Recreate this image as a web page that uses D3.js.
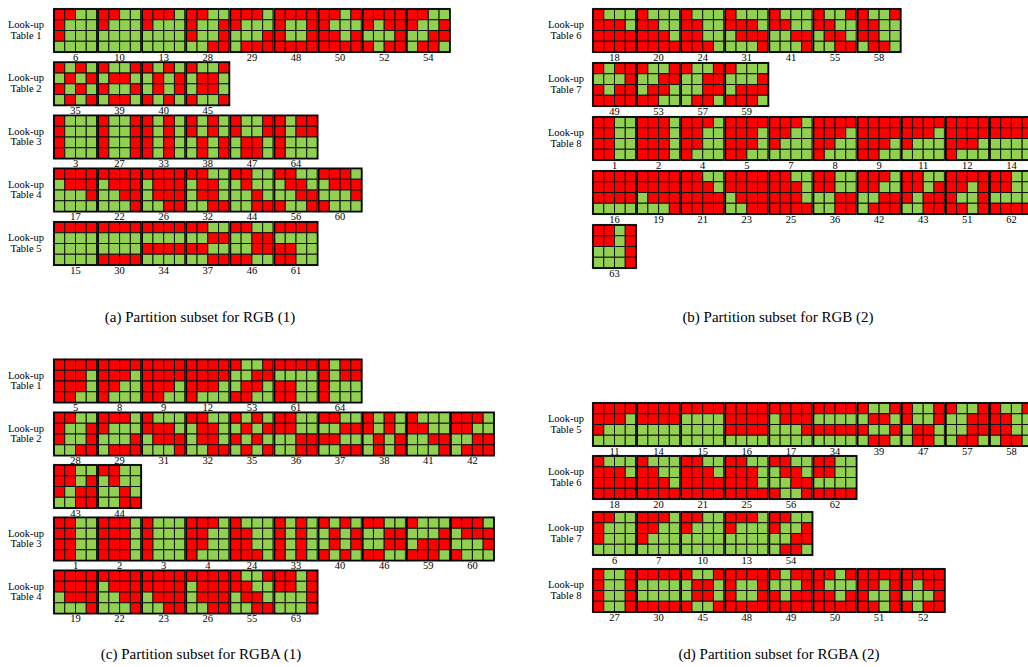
<!DOCTYPE html>
<html>
<head>
<meta charset="utf-8">
<script src="https://cdn.jsdelivr.net/npm/d3@7"></script>
<style>
  body { margin: 0; background: #fff; }
  text { font-family: "Liberation Serif", "Times New Roman", serif; fill: #000; }
</style>
</head>
<body>
<svg id="chart" width="1028" height="667"></svg>
<script>
// partition shapes, 4x4 read row by row, 1 = red (subset 0), 0 = green (subset 1)
const partitionShapes = {
  1: "1100110011001100", 2: "1110111011101110", 3: "1000100010001000", 4: "1110110011001000",
  5: "1111111011101100", 6: "1100100010000000", 7: "1110110010000000", 8: "1111111011001000",
  9: "1111111111101100", 10: "1100100000000000", 11: "1111111010000000", 12: "1111111111101000",
  13: "1110100000000000", 14: "1111111100000000", 15: "1111000000000000", 16: "1111111111110000",
  17: "1111011100010000", 18: "1000111011111111", 19: "1111111101110001", 20: "1000110011101111",
  21: "1100111011111111", 22: "1111011100110001", 23: "1111111101110011", 24: "1000110011001110",
  25: "1100111011101111", 26: "1111011101110011", 27: "1001100110011001", 28: "1100100110010011",
  29: "1110100000010111", 30: "1111000000001111", 31: "1000111001110001", 32: "1100011001100011",
  33: "1010101010101010", 34: "1111000011110000", 35: "1010010110100101", 36: "1100110000110011",
  37: "1100001111000011", 38: "1010101001010101", 39: "1001011010010110", 40: "1010010101011010",
  41: "1000110000110001", 42: "1110110000110111", 43: "1100110110110011", 44: "1100010000100011",
  45: "1001011001101001", 46: "1100001100111100", 47: "1001100101100110", 48: "1111100110011111",
  49: "1011000110111111", 50: "1101100011011111", 51: "1111110110011101", 52: "1111101100011011",
  53: "1001001101101100", 54: "1100100100110110", 55: "1001110001100011", 56: "1100011000111001",
  57: "1001001100110110", 58: "1001110011000110", 59: "1000000101111110", 60: "1110011100011000",
  61: "1111000011001100", 62: "1100110000001111", 63: "1101110100010001", 64: "1011101110001000"
};

// (a) RGB (1)
const rgb1Tables = ["Table 1", "Table 2", "Table 3", "Table 4", "Table 5"];
const rgb1Rows = [
  [6, 10, 13, 28, 29, 48, 50, 52, 54],
  [35, 39, 40, 45],
  [3, 27, 33, 38, 47, 64],
  [17, 22, 26, 32, 44, 56, 60],
  [15, 30, 34, 37, 46, 61]
];
// (b) RGB (2)
const rgb2Tables = ["Table 6", "Table 7", "Table 8", "", ""];
const rgb2Rows = [
  [18, 20, 24, 31, 41, 55, 58],
  [49, 53, 57, 59],
  [1, 2, 4, 5, 7, 8, 9, 11, 12, 14],
  [16, 19, 21, 23, 25, 36, 42, 43, 51, 62],
  [63]
];
// (c) RGBA (1)
const rgba1Tables = ["Table 1", "Table 2", "", "Table 3", "Table 4"];
const rgba1Rows = [
  [5, 8, 9, 12, 53, 61, 64],
  [28, 29, 31, 32, 35, 36, 37, 38, 41, 42],
  [43, 44],
  [1, 2, 3, 4, 24, 33, 40, 46, 59, 60],
  [19, 22, 23, 26, 55, 63]
];
// (d) RGBA (2)
const rgba2Tables = ["Table 5", "Table 6", "Table 7", "Table 8"];
const rgba2Rows = [
  [11, 14, 15, 16, 17, 34, 39, 47, 57, 58],
  [18, 20, 21, 25, 56, 62],
  [6, 7, 10, 13, 54],
  [27, 30, 45, 48, 49, 50, 51, 52]
];

const captions = [
  "(a) Partition subset for RGB (1)",
  "(b) Partition subset for RGB (2)",
  "(c) Partition subset for RGBA (1)",
  "(d) Partition subset for RGBA (2)"
];

// layout
const gridSize = 43;
const pitch = 44.1;
const red = "#ff0000", green = "#92d050";

const layout = [
  { x0: 54, labelX: 26, rowTops: [9, 62.3, 115.5, 168.5, 222], capX: 200, capY: 322 },
  { x0: 593, labelX: 566, rowTops: [9, 63, 117, 171, 225], capX: 778, capY: 322 },
  { x0: 54, labelX: 26, rowTops: [359.5, 412.5, 465, 517.5, 570.5], capX: 201, capY: 659 },
  { x0: 593, labelX: 566, rowTops: [403, 456, 512, 569], capX: 779, capY: 659 }
];

const svg = d3.select("#chart");

const cellScale = d3.scaleBand().domain([0, 1, 2, 3]).range([0, gridSize]);

function drawPanel(p, tables, rows, caption) {
  const g = svg.append("g");
  const gx = d3.scaleLinear().domain([0, 1]).range([p.x0, p.x0 + pitch]);

  rows.forEach((ids, r) => {
    const top = p.rowTops[r];

    if (tables[r]) {
      const lab = g.append("text")
        .attr("text-anchor", "middle")
        .attr("font-size", 10.5);
      lab.append("tspan").attr("x", p.labelX).attr("y", top + 19).text("Look-up");
      lab.append("tspan").attr("x", p.labelX).attr("y", top + 29.5).text(tables[r]);
    }

    const grids = g.selectAll(null)
      .data(ids)
      .join("g")
      .attr("transform", (d, i) => `translate(${gx(i)},${top})`);

    // grey frame around each block
    grids.append("rect")
      .attr("x", -0.6).attr("y", -0.6)
      .attr("width", gridSize + 1.2).attr("height", gridSize + 1.2)
      .attr("fill", "none")
      .attr("stroke", "#8c8c8c")
      .attr("stroke-width", 1);

    grids.selectAll("rect.cell")
      .data(id => partitionShapes[id].split("").map((b, k) => ({ b: +b, row: Math.floor(k / 4), col: k % 4 })))
      .join("rect")
      .attr("class", "cell")
      .attr("x", d => cellScale(d.col))
      .attr("y", d => cellScale(d.row))
      .attr("width", cellScale.bandwidth())
      .attr("height", cellScale.bandwidth())
      .attr("fill", d => d.b ? red : green)
      .attr("stroke", "#111")
      .attr("stroke-width", 1);

    grids.append("rect")
      .attr("width", gridSize).attr("height", gridSize)
      .attr("fill", "none")
      .attr("stroke", "#000")
      .attr("stroke-width", 1.6);

    grids.append("text")
      .attr("x", gridSize / 2)
      .attr("y", gridSize + 8.8)
      .attr("text-anchor", "middle")
      .attr("font-size", 10.5)
      .text(d => d);
  });

  g.append("text")
    .attr("x", p.capX)
    .attr("y", p.capY)
    .attr("text-anchor", "middle")
    .attr("font-size", 15)
    .text(caption);
}

drawPanel(layout[0], rgb1Tables, rgb1Rows, captions[0]);
drawPanel(layout[1], rgb2Tables, rgb2Rows, captions[1]);
drawPanel(layout[2], rgba1Tables, rgba1Rows, captions[2]);
drawPanel(layout[3], rgba2Tables, rgba2Rows, captions[3]);
</script>
</body>
</html>
